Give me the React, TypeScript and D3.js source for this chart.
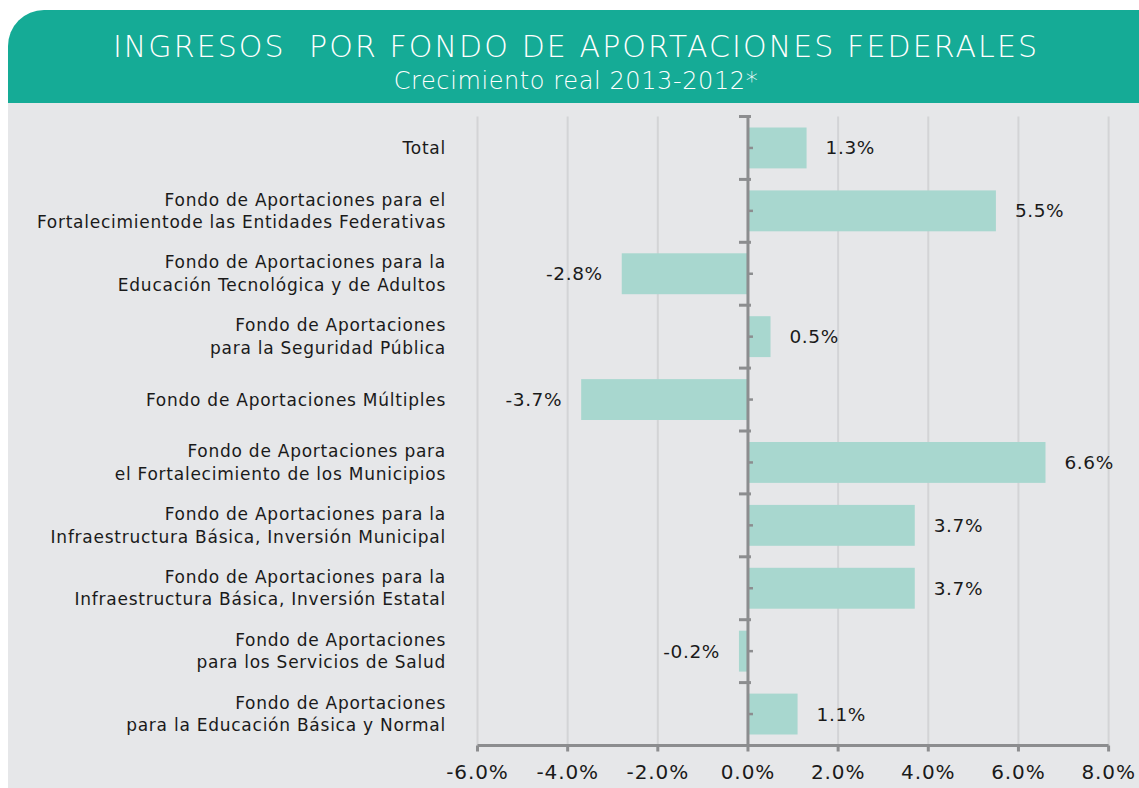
import React from "react";
import * as d3 from "d3";

const categories: string[][] = [
  ["Total"],
  ["Fondo de Aportaciones para el", "Fortalecimientode las Entidades Federativas"],
  ["Fondo de Aportaciones para la", "Educación Tecnológica y de Adultos"],
  ["Fondo de Aportaciones", "para la Seguridad Pública"],
  ["Fondo de Aportaciones Múltiples"],
  ["Fondo de Aportaciones para", "el Fortalecimiento de los Municipios"],
  ["Fondo de Aportaciones para la", "Infraestructura Básica, Inversión Municipal"],
  ["Fondo de Aportaciones para la", "Infraestructura Básica, Inversión Estatal"],
  ["Fondo de Aportaciones", "para los Servicios de Salud"],
  ["Fondo de Aportaciones", "para la Educación Básica y Normal"],
];
const values: number[] = [1.3, 5.5, -2.8, 0.5, -3.7, 6.6, 3.7, 3.7, -0.2, 1.1];
const tickValues: number[] = [-6, -4, -2, 0, 2, 4, 6, 8];
const title = "INGRESOS  POR FONDO DE APORTACIONES FEDERALES";
const subtitle = "Crecimiento real 2013-2012*";

const W = 1139;
const H = 788;
const FONT = "'DejaVu Sans', sans-serif";

export default function App() {
  const x = d3.scaleLinear().domain([-6, 8]).range([477.5, 1108.6]);
  const idx = categories.map((_, i) => String(i));
  const y = d3.scaleBand().domain(idx).range([116.5, 745.5]).paddingInner(0.35).paddingOuter(0.175);
  const yb = d3.scaleBand().domain(idx).range([116.5, 745.5]);
  const x0 = x(0);
  const axisY = 745.5;
  const fmt = (v: number) => v.toFixed(1) + "%";

  return (
    <svg width={W} height={H} style={{ position: "absolute", left: 0, top: 0 }}>
      <rect x={0} y={0} width={W} height={H} fill="#ffffff" />
      <rect x={8} y={10} width={W + 40} height={H} rx={36} ry={36} fill="#15ab96" />
      <rect x={8} y={103} width={W} height={H - 103} fill="#e6e7e9" />
      <text x={576} y={57} textAnchor="middle" fill="#ffffff" fontFamily={FONT} fontWeight={200} fontSize={30} letterSpacing={2.1} style={{ whiteSpace: "pre" }}>
        {title}
      </text>
      <text x={576} y={89} textAnchor="middle" fill="#ffffff" fontFamily={FONT} fontWeight={200} fontSize={24} letterSpacing={0.6}>
        {subtitle}
      </text>
      {/* gridlines */}
      {tickValues.filter((t) => t !== 0).map((t) => (
        <line key={"g" + t} x1={x(t)} x2={x(t)} y1={116.5} y2={axisY} stroke="#d3d4d6" strokeWidth={2} />
      ))}
      {/* bars */}
      {values.map((v, i) => (
        <rect
          key={"b" + i}
          x={Math.min(x(v), x0)}
          y={y(String(i))!}
          width={Math.abs(x(v) - x0)}
          height={y.bandwidth()}
          fill="#a8d7cf"
        />
      ))}
      {/* value labels */}
      {values.map((v, i) => (
        <text
          key={"v" + i}
          x={v >= 0 ? x(v) + 19 : x(v) - 19}
          y={y(String(i))! + y.bandwidth() / 2}
          dy="0.35em"
          textAnchor={v >= 0 ? "start" : "end"}
          fontFamily={FONT}
          fontSize={18.5}
          letterSpacing={0.6}
          fill="#1a1a1a"
        >
          {fmt(v)}
        </text>
      ))}
      {/* category labels */}
      {categories.map((lines, i) => {
        const cy = yb(String(i))! + yb.bandwidth() / 2;
        return (
          <text key={"c" + i} textAnchor="end" fontFamily={FONT} fontSize={17} letterSpacing={0.75} fill="#1a1a1a">
            {lines.map((l, j) => (
              <tspan key={j} x={446} y={cy + (j - (lines.length - 1) / 2) * 22.5} dy="0.35em">
                {l}
              </tspan>
            ))}
          </text>
        );
      })}
      {/* x axis */}
      <line x1={x(-6)} x2={x(8)} y1={axisY} y2={axisY} stroke="#8c8d8f" strokeWidth={3} />
      {tickValues.map((t) => (
        <g key={"t" + t}>
          <line x1={x(t)} x2={x(t)} y1={axisY} y2={axisY + 6} stroke="#8c8d8f" strokeWidth={3} />
          <text x={x(t)} y={772} dy="0.35em" textAnchor="middle" fontFamily={FONT} fontSize={20} letterSpacing={0.9} fill="#1a1a1a">
            {fmt(t)}
          </text>
        </g>
      ))}
      {/* zero axis */}
      <line x1={x0} x2={x0} y1={116.5} y2={axisY} stroke="#8c8d8f" strokeWidth={3} />
      {idx.map((d) => (
        <g key={"z" + d}>
          <line x1={x0 - 9} x2={x0 + 3} y1={yb(d)!} y2={yb(d)!} stroke="#8c8d8f" strokeWidth={3} />
          <line x1={x0} x2={x0 + 5} y1={yb(d)! + yb.bandwidth() / 2} y2={yb(d)! + yb.bandwidth() / 2} stroke="#8c8d8f" strokeWidth={2.5} />
        </g>
      ))}
    </svg>
  );
}
